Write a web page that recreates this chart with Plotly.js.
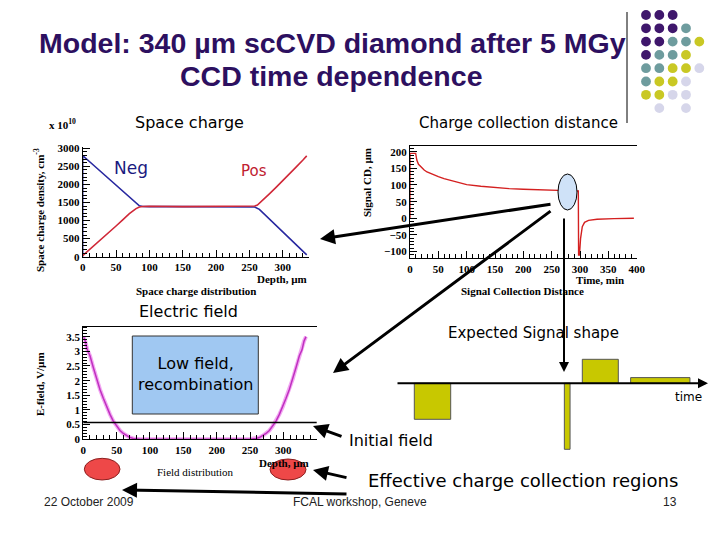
<!DOCTYPE html>
<html><head><meta charset="utf-8">
<script src="https://cdn.plot.ly/plotly-3.0.1.min.js"></script>
<style>html,body{margin:0;padding:0;background:#fff}#chart{width:720px;height:540px}</style>
</head><body><div id="chart"></div>
<script>
// ---------------- data ----------------
// Space charge distribution (x 10^10 cm^-3) vs depth (µm)
const depthNeg = [0,0,10,20,30,40,50,60,70,80,85,90,100,150,200,250,258,265,280,300,320,336];
const spaceNeg = [0,2800,2635,2470,2305,2140,1975,1810,1645,1480,1410,1390,1385,1385,1385,1385,1375,1310,1040,690,340,50];
const depthPos = [0,10,20,30,40,50,60,70,80,85,90,100,150,200,250,258,262,270,280,290,300,310,320,330,336];
const spacePos = [30,190,350,510,680,850,1020,1190,1330,1375,1390,1395,1385,1385,1395,1405,1430,1560,1740,1920,2100,2290,2480,2670,2790];

// Signal collection distance (µm) vs time (min)
const timeMin  = [0,0,10,12,15,20,25,30,40,50,60,80,100,125,150,175,200,225,250,275,297,297.5,299,301,304,308,315,330,360,395];
const signalCD = [0,195,195,175,162,152,145,139,131,125,119,109,101,96,92,89,87,85,84,83,82,-110,-110,-60,-25,-12,-6,-3,-1,0];

// Electric field (V/µm) vs depth (µm)
const depthE = [0,3,6,10,15,20,25,30,35,40,45,50,55,60,65,70,75,80,85,249,254,259,264,269,274,279,284,289,294,299,304,309,314,319,324,328,331,334];
const fieldE = [3.5,3.35,3.05,2.85,2.45,2.05,1.7,1.4,1.1,0.85,0.62,0.45,0.3,0.2,0.12,0.06,0.03,0.01,0,0,0.01,0.03,0.06,0.12,0.2,0.3,0.45,0.62,0.85,1.1,1.4,1.7,2.05,2.45,2.85,3.05,3.35,3.5];
const initialField = 0.57;

// Expected signal shape (schematic)
const signalTime  = [36.5,171.2,204.3,264.3];
const signalAmp   = [-36,-66,24,5.7];
const signalWidth = [36.4,5.7,36,59.3];

const depthTicks = [0,50,100,150,200,250,300];

// logo dots: P purple, T teal, Y yellow, L light
const dotRows = ['PPP..','PPPT.','PPTTY','PTTY.','TTYYL','TYYL.','YYLL.','.L.L.'];

// ---------------- helpers ----------------
const W = 720, H = 540;
const px = x => x / W;
const py = y => 1 - y / H;

const serif = {family:'Liberation Serif, Times New Roman, serif', size:11, color:'#000', weight:'bold'};
const comic = 'DejaVu Sans, Verdana, sans-serif';

function ax(extra){
  return Object.assign({
    showgrid:false, zeroline:false, showline:true, linecolor:'#000', linewidth:1,
    ticks:'inside', ticklen:7, tickwidth:1, tickcolor:'#000',
    tickfont:serif, fixedrange:true,
  }, extra);
}

const traces = [
  {x:depthNeg, y:spaceNeg, xaxis:'x', yaxis:'y', mode:'lines', line:{color:'#2828a0', width:1.6}, hoverinfo:'skip'},
  {x:depthPos, y:spacePos, xaxis:'x', yaxis:'y', mode:'lines', line:{color:'#d02838', width:1.6}, hoverinfo:'skip'},
  {x:timeMin, y:signalCD, xaxis:'x2', yaxis:'y2', mode:'lines', line:{color:'#d42020', width:1.4}, hoverinfo:'skip'},
  {x:depthE, y:fieldE, xaxis:'x3', yaxis:'y3', mode:'lines', line:{color:'#f2a8f2', width:4}, hoverinfo:'skip'},
  {x:depthE, y:fieldE, xaxis:'x3', yaxis:'y3', mode:'lines', line:{color:'#c030c0', width:1.5}, hoverinfo:'skip'},
  {type:'bar', x:signalTime, y:signalAmp, width:signalWidth, xaxis:'x4', yaxis:'y4',
   marker:{color:'#c8c800', line:{color:'#555', width:1}}, hoverinfo:'skip'},
];

const shapes = [];
const annotations = [];

function T(text, x, y, size, opts){
  annotations.push(Object.assign({
    text:text, xref:'paper', yref:'paper', x:px(x), y:py(y), showarrow:false,
    xanchor:'center', yanchor:'middle',
    font:{family:comic, size:size, color:'#000'}
  }, opts||{}));
}
function A(tipX, tipY, tailX, tailY, w){
  annotations.push({
    text:'', xref:'paper', yref:'paper', x:px(tipX), y:py(tipY),
    ax:tailX-tipX, ay:tailY-tipY, showarrow:true, arrowhead:2, arrowsize:1,
    arrowwidth:w||3, arrowcolor:'#000', standoff:0
  });
}

// Title
const titleFont = {family:'Liberation Sans, Arial, sans-serif', size:28.5, color:'#2d1060', weight:'bold'};
T('Model: 340 µm scCVD diamond after 5 MGy', 332, 43, 28.5, {font:titleFont});
T('CCD time dependence', 331, 76, 28.5, {font:titleFont});

// separator line + dots
shapes.push({type:'line', xref:'paper', yref:'paper', x0:px(627), x1:px(627), y0:py(12), y1:py(123), line:{color:'#000', width:1}});
const dotCol = {P:'#3f176c', T:'#6e9c9e', Y:'#c9c824', L:'#d6d6ea'};
dotRows.forEach((row, r) => {
  row.split('').forEach((c, k) => {
    if (c === '.') return;
    const cx = 646 + k*13.33, cy = 15 + r*13.3, rad = 4.9;
    shapes.push({type:'circle', xref:'paper', yref:'paper', x0:px(cx-rad), x1:px(cx+rad), y0:py(cy+rad), y1:py(cy-rad),
      fillcolor:dotCol[c], line:{width:0}});
  });
});

// Section labels
T('Space charge', 189, 123, 16);
T('Charge collection distance', 518, 123, 15);
T('Electric field', 188, 311, 16);
T('Expected Signal shape', 533, 333, 15);
T('Neg', 131, 168, 17, {font:{family:comic, size:17, color:'#1a1a80'}});
T('Pos', 254, 171, 15, {font:{family:comic, size:15, color:'#c02030'}});
T('time', 688, 397, 12);
T('Initial field', 391, 440, 16);
T('Effective charge collection regions', 523, 480, 18);

// plot 1 texts
T('x 10<sup>10</sup>', 63, 124, 10, {font:serif});
T('Space charge density, cm<sup>-3</sup>', 39, 210, 11, {font:serif, textangle:-90});
T('Depth, µm', 282, 279, 11, {font:serif});
T('Space charge distribution', 196, 291, 11, {font:serif});
// plot 2 texts
T('Signal CD, µm', 367, 183, 11, {font:serif, textangle:-90});
T('Time, min', 600, 280, 11, {font:serif});
T('Signal Collection Distance', 522, 291, 11, {font:serif});
// plot 3 texts
T('E-field, V/µm', 40, 384, 11, {font:serif, textangle:-90});
T('Depth, µm', 284, 463, 11, {font:serif});
T('Field distribution', 195, 472, 11, {font:Object.assign({}, serif, {weight:'normal'})});

// Footer
const foot = {family:'Liberation Sans Narrow, Liberation Sans, Arial, sans-serif', size:12, color:'#222'};
T('22 October 2009', 89, 502, 12, {font:foot});
T('FCAL workshop, Geneve', 360, 502, 12, {font:foot});
T('13', 670, 502, 12, {font:foot});

// Low field box
shapes.push({type:'rect', xref:'paper', yref:'paper', x0:px(132.3), x1:px(258.3), y0:py(414), y1:py(336),
  fillcolor:'#a0c8f2', line:{color:'#333', width:1}});
T('Low field,<br>recombination', 195, 374, 16);

// Initial field line on E plot
shapes.push({type:'line', xref:'paper', yref:'y3', x0:px(83.3), x1:px(316.7), y0:initialField, y1:initialField, line:{color:'#000', width:1.5}});

// ellipses
shapes.push({type:'circle', xref:'paper', yref:'paper', x0:px(558), x1:px(577), y0:py(210), y1:py(174),
  fillcolor:'#cfe2f8', line:{color:'#000', width:1}});
shapes.push({type:'circle', xref:'paper', yref:'paper', x0:px(84.3), x1:px(120), y0:py(480), y1:py(458.3),
  fillcolor:'#ee4848', line:{color:'#8b2020', width:1}});
shapes.push({type:'circle', xref:'paper', yref:'paper', x0:px(270), x1:px(306), y0:py(480), y1:py(459),
  fillcolor:'#ee4848', line:{color:'#8b2020', width:1}});

// arrows
A(320, 239, 552, 204, 3);
A(333, 373, 552, 210, 3);
A(564, 372, 564, 217, 2);
A(313, 426, 343, 437, 3);
A(313, 470, 348, 478, 3);
A(122, 490, 348, 494, 3);
// signal time axis
A(708, 383.3, 396, 383.3, 2);

const layout = {
  width:W, height:H, margin:{l:0, r:0, t:0, b:0},
  paper_bgcolor:'#fff', plot_bgcolor:'rgba(0,0,0,0)', showlegend:false,
  xaxis: ax({domain:[px(82.7), px(309.4)], range:[0,340], anchor:'y', tickmode:'array', tickvals:depthTicks,
             minor:{dtick:10, tick0:0, ticks:'inside', ticklen:4, tickcolor:'#000'}}),
  yaxis: ax({domain:[py(256.7), py(146.5)], range:[0,3050], anchor:'x', dtick:500, tick0:0,
             minor:{dtick:100, ticks:'inside', ticklen:4, tickcolor:'#000'}}),
  xaxis2: ax({domain:[px(410), px(636.7)], range:[0,400], anchor:'y2', dtick:50, tick0:0, mirror:true,
             minor:{dtick:10, ticks:'inside', ticklen:4, tickcolor:'#000'}}),
  yaxis2: ax({domain:[py(258.3), py(146)], range:[-120,217], anchor:'x2', dtick:50, tick0:0,
             minor:{dtick:10, ticks:'inside', ticklen:4, tickcolor:'#000'}}),
  xaxis3: ax({domain:[px(83.3), px(316.7)], range:[0,350], anchor:'y3', tickmode:'array', tickvals:depthTicks, mirror:true,
             minor:{dtick:10, tick0:0, ticks:'inside', ticklen:4, tickcolor:'#000'}}),
  yaxis3: ax({domain:[py(439.3), py(326.7)], range:[0,3.84], anchor:'x3', dtick:0.5, tick0:0,
             minor:{dtick:0.1, ticks:'inside', ticklen:4, tickcolor:'#000'}}),
  xaxis4: {domain:[px(396), px(708)], range:[0,312], anchor:'y4', visible:false, fixedrange:true},
  yaxis4: {domain:[py(455), py(350)], range:[-71.7,33.3], anchor:'x4', visible:false, fixedrange:true},
  bargap:0,
  shapes:shapes, annotations:annotations
};

Plotly.newPlot('chart', traces, layout, {staticPlot:true, displayModeBar:false});
</script>
</body></html>
